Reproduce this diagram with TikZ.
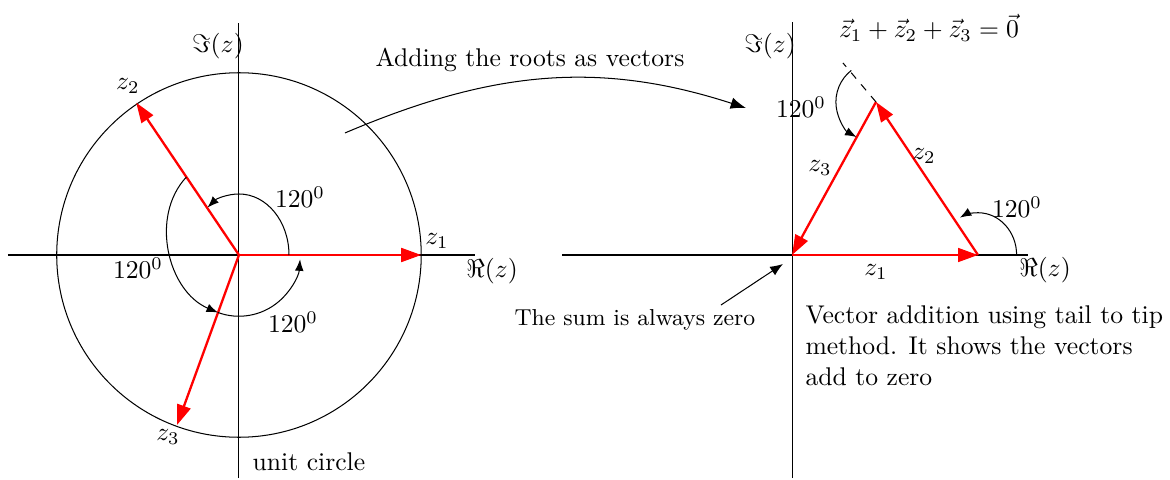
\documentclass[tikz,border=0pt]{standalone}
\usepackage{amsmath}
\usetikzlibrary{arrows.meta}
\tikzset{
  ax/.style={line width=0.4pt, draw=black},
  vec/.style={-{Triangle[length=7.8pt,width=5.4pt]}, line width=0.9pt, draw=red},
  ang/.style={-{Latex[length=4.5pt,width=3.4pt]}, line width=0.4pt},
  arr/.style={-{Latex[length=6pt,width=4.5pt]}, line width=0.4pt},
  lbl/.style={inner sep=1pt},
}
\begin{document}
\begin{tikzpicture}
    \useasboundingbox (-3.278,-3.073) rectangle (12.771,3.498);
    % left: the three roots on the unit circle
    \coordinate (O1)  at (0,0);
    \coordinate (Z1)  at (0:2.5);
    \coordinate (Z2)  at (124:2.52);
    \coordinate (Z3)  at (250:2.48);
    \coordinate (xw1) at (-3.169,0);
    \coordinate (xe1) at (3.237,0);
    \coordinate (ys1) at (0,-3.059);
    \coordinate (yn1) at (0,3.182);
    \draw[ax] (xw1) -- (xe1);
    \draw[ax] (ys1) -- (yn1);
    \draw (O1) circle[radius=2.5];
    \draw[vec] (O1) -- (Z1);
    \draw[vec] (O1) -- (Z2);
    \draw[vec] (O1) -- (Z3);
    \draw[ang] ([xshift=0.686cm]O1) arc[start angle=0, end angle=129, x radius=0.686, y radius=0.837];
    \draw[ang] ([shift={(124:1.29)}]O1) to[out=227, in=157] ([shift={(250:0.84)}]O1);
    \draw[ang] ([shift={(250:0.84)}]O1) arc[start angle=250, end angle=356, radius=0.84];

    \node[lbl] (im1)  at (-0.288, 2.867) {$\Im(z)$};
    \node[lbl] (re1)  at (3.471,-0.219)  {$\Re(z)$};
    \node[lbl] (lz1)  at (2.716, 0.192)  {$z_1$};
    \node[lbl] (lz2)  at (-1.523, 2.318) {$z_2$};
    \node[lbl] (lz3)  at (-0.974,-2.497) {$z_3$};
    \node[lbl] (a12)  at (0.837, 0.796)  {$120^0$};
    \node[lbl] (a23)  at (-1.385,-0.178) {$120^0$};
    \node[lbl] (a31)  at (0.741,-0.919)  {$120^0$};
    \node[lbl] (unit) at (0.960,-2.840)  {unit circle};

    % link between the two planes
    \coordinate (addfrom) at (1.454, 1.674);
    \coordinate (addto)   at (6.955, 2.016);
    \draw[arr] (addfrom) to[out=23, in=162] (addto);
    \node[lbl] (add) at (3.992, 2.675) {Adding the roots as vectors};

    % right: tail to tip
    \coordinate (O2)  at (7.586,0);
    \coordinate (T1)  at (10.137,0);
    \coordinate (T2)  at (8.738,2.099);
    \coordinate (T2x) at (8.285,2.634);
    \coordinate (xw2) at (4.431,0);
    \coordinate (xe2) at (10.823,0);
    \coordinate (ys2) at (7.586,-3.059);
    \coordinate (yn2) at (7.586,3.196);
    \draw[ax] (xw2) -- (xe2);
    \draw[ax] (ys2) -- (yn2);
    \draw[vec] (O2) -- (T1);
    \draw[vec] (T1) -- (T2);
    \draw[vec] (T2) -- (O2);
    \draw[dashed] (T2) -- (T2x);
    \draw[ang] ([xshift=0.53cm]T1) arc[start angle=0, end angle=118, x radius=0.53, y radius=0.58];
    \draw[ang] ([shift={(128:0.55)}]T2) arc[start angle=128, end angle=241, radius=0.55];

    \node[lbl] (im2) at (7.284, 2.867)  {$\Im(z)$};
    \node[lbl] (re2) at (11.056,-0.206) {$\Re(z)$};
    \node[lbl] (sumeq) at (9.465, 3.114) {$\vec{z}_1+\vec{z}_2+\vec{z}_3=\vec{0}$};
    \node[lbl] (b23) at (7.709, 2.030)  {$120^0$};
    \node[lbl] (b12) at (10.672, 0.658) {$120^0$};
    \node[lbl] (tz1) at (8.738,-0.233)  {$z_1$};
    \node[lbl] (tz2) at (9.396, 1.358)  {$z_2$};
    \node[lbl] (tz3) at (7.970, 1.193)  {$z_3$};

    \node[lbl, font=\small] (sum) at (5.432,-0.892) {The sum is always zero};
    \coordinate (sumtail) at (6.612,-0.686);
    \coordinate (sumtip)  at (7.462,-0.123);
    \draw[arr, -{Latex[length=5pt,width=4pt]}] (sumtail) -- (sumtip);
    \node[anchor=north west, inner sep=0pt, align=left] (note) at (7.764,-0.69)
         {Vector addition using tail to tip\\method. It shows the vectors\\add to zero};
\end{tikzpicture}
\end{document}
